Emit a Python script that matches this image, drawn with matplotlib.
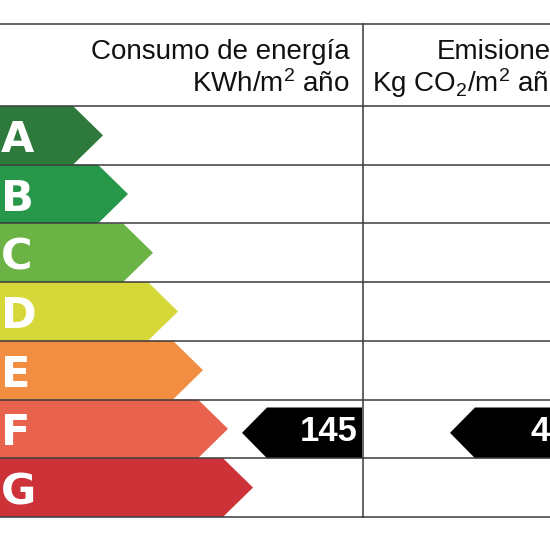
import matplotlib
matplotlib.use('Agg')
import matplotlib.pyplot as plt
from matplotlib.patches import Polygon

plt.rcParams['mathtext.fontset'] = 'custom'
plt.rcParams['mathtext.rm'] = 'Liberation Sans'
plt.rcParams['mathtext.it'] = 'Liberation Sans'

# energy classes and their colours
classes = ['A', 'B', 'C', 'D', 'E', 'F', 'G']
class_colors = ['#2e7a3d', '#27984a', '#6bb344', '#d6d83a', '#f18e42', '#e9624d', '#cc3238']

# rating of the building
energy_class = 'F'
energy_value = '145'
emission_class = 'F'
emission_value = '41'

header_energy = ['Consumo de energía', 'KWh/m$^2$ año']
header_emission = ['Emisiones', 'Kg CO$_2$/m$^2$ año']

# layout (pixel units of a 550x550 canvas)
top_y = 24
head_y = 106
row_h = 58.7
col_x = 363
first_tip = 103
tip_step = 25
tip_depth = 30
line_col = '#3a3a3a'

fig = plt.figure(figsize=(5.5, 5.5), dpi=100)
ax = fig.add_axes([0, 0, 1, 1])
ax.set_xlim(0, 550)
ax.set_ylim(550, 0)
ax.axis('off')

# class arrows
for i, (c, col) in enumerate(zip(classes, class_colors)):
    y0 = head_y + i * row_h
    y1 = y0 + row_h
    tip = first_tip + tip_step * i
    pts = [(-5, y0), (tip - tip_depth, y0), (tip, (y0 + y1) / 2),
           (tip - tip_depth, y1), (-5, y1)]
    ax.add_patch(Polygon(pts, closed=True, facecolor=col, edgecolor='none', zorder=2))
    ax.text(1, (y0 + y1) / 2 + 16.5, c, color='white', fontsize=31,
            fontfamily='DejaVu Sans', fontweight='bold', ha='left', va='baseline', zorder=3)

# black rating indicators
def indicator(cls, value, right, pad):
    i = classes.index(cls)
    y0 = head_y + i * row_h + 8
    y1 = head_y + (i + 1) * row_h
    tip = right - 120
    pts = [(tip, (y0 + y1) / 2), (tip + 25, y0), (right, y0), (right, y1), (tip + 25, y1)]
    ax.add_patch(Polygon(pts, closed=True, facecolor='black', edgecolor='none', zorder=2))
    ax.text(right - pad, y1 - 17, value, color='white', fontsize=25,
            fontfamily='Liberation Sans', fontweight='bold', ha='right', va='baseline', zorder=3)

indicator(energy_class, energy_value, col_x - 1, 4)
indicator(emission_class, emission_value, 570, 1)

# header text
for j, t in enumerate(header_energy):
    ax.text(350, 59 + 33 * j, t, fontsize=20, fontfamily='Liberation Sans',
            color='#111111', ha='right', va='baseline')
for j, t in enumerate(header_emission):
    ax.text(565, 59 + 33 * j, t, fontsize=20, fontfamily='Liberation Sans',
            color='#111111', ha='right', va='baseline')

# grid lines
row_lines = [top_y, head_y] + [head_y + (k + 1) * row_h for k in range(len(classes))]
for y in row_lines:
    ax.plot([0, 550], [y, y], color=line_col, lw=1.1, zorder=4, solid_capstyle='butt')
ax.plot([col_x, col_x], [top_y, row_lines[-1]], color=line_col, lw=1.1, zorder=4)

fig.savefig('out.png', dpi=100, facecolor='white')
